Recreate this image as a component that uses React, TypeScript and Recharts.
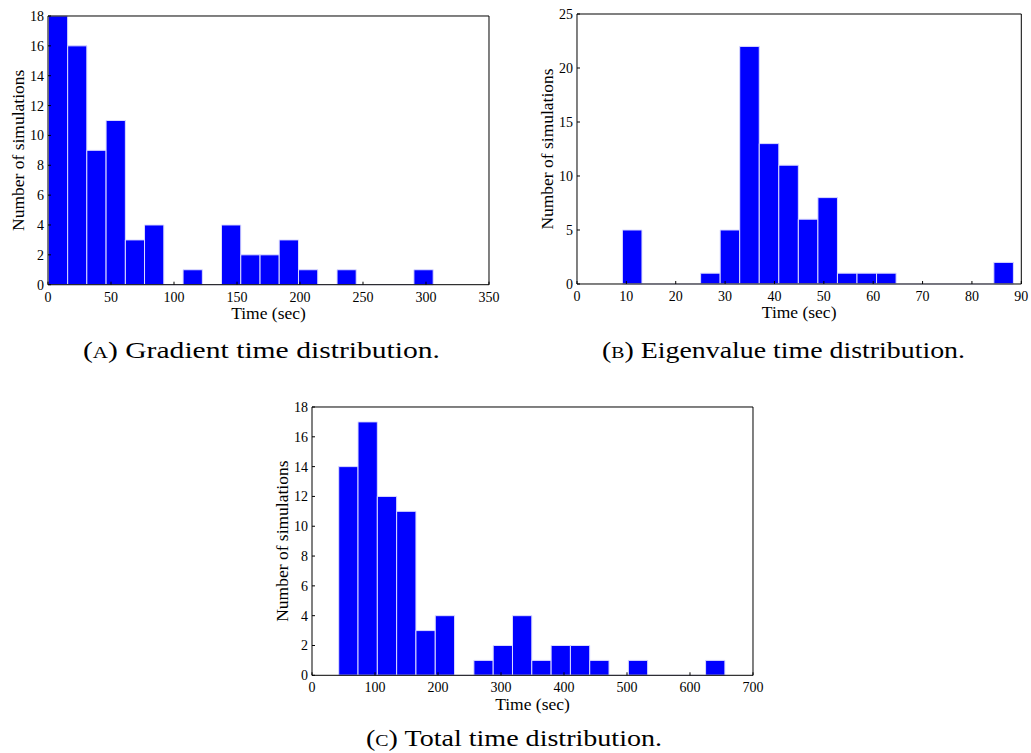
import React from 'react';
import { ComposedChart, XAxis, YAxis, ReferenceArea, ReferenceLine, Line, Label } from 'recharts';

// ---- Data (histogram bin edges and counts) ----
const gradEdges = [0.3, 15.6, 30.8, 46.1, 61.4, 76.6, 91.9, 107.2, 122.5, 137.7, 153.0, 168.3, 183.5, 198.8, 214.1, 229.4, 244.6, 259.9, 275.2, 290.4, 305.7];
const gradCounts = [18, 16, 9, 11, 3, 4, 0, 1, 0, 4, 2, 2, 3, 1, 0, 1, 0, 0, 0, 1];
const gradXTicks = [0, 50, 100, 150, 200, 250, 300, 350];
const gradYTicks = [0, 2, 4, 6, 8, 10, 12, 14, 16, 18];

const eigEdges = [9.2, 13.16, 17.12, 21.08, 25.04, 29.0, 32.96, 36.92, 40.88, 44.84, 48.8, 52.76, 56.72, 60.68, 64.64, 68.6, 72.56, 76.52, 80.48, 84.44, 88.4];
const eigCounts = [5, 0, 0, 0, 1, 5, 22, 13, 11, 6, 8, 1, 1, 1, 0, 0, 0, 0, 0, 2];
const eigXTicks = [0, 10, 20, 30, 40, 50, 60, 70, 80, 90];
const eigYTicks = [0, 5, 10, 15, 20, 25];

const totalEdges = [42.4, 73.05, 103.7, 134.35, 165.0, 195.65, 226.3, 256.95, 287.6, 318.25, 348.9, 379.55, 410.2, 440.85, 471.5, 502.15, 532.8, 563.45, 594.1, 624.75, 655.4];
const totalCounts = [14, 17, 12, 11, 3, 4, 0, 1, 2, 4, 1, 2, 2, 1, 0, 1, 0, 0, 0, 1];
const totalXTicks = [0, 100, 200, 300, 400, 500, 600, 700];
const totalYTicks = [0, 2, 4, 6, 8, 10, 12, 14, 16, 18];

const xTitle = 'Time (sec)';
const yTitle = 'Number of simulations';

const SERIF = '"Liberation Serif", "Times New Roman", serif';
const BAR_FILL = '#0000ff';
const BAR_EDGE = '#dcdcff';

const tickStyle = { fontFamily: SERIF, fontSize: 14, fill: '#000' };

const XTitle = (props: any) => {
  const vb = props.viewBox || {};
  const cx = vb.x + vb.width / 2;
  const y = vb.y + 34.5;
  return (
    <text x={cx} y={y} textAnchor="middle" fontFamily={SERIF} fontSize={17.5} fill="#000">
      {props.value}
    </text>
  );
};

const YTitle = (props: any) => {
  const vb = props.viewBox || {};
  const x = vb.x + vb.width - 24;
  const cy = vb.y + vb.height / 2;
  return (
    <text x={x} y={cy} transform={`rotate(-90 ${x} ${cy})`} textAnchor="middle" fontFamily={SERIF} fontSize={17.5} fill="#000">
      {props.value}
    </text>
  );
};

type Plot = { left: number; top: number; right: number; bottom: number };

function HistPanel(props: {
  edges: number[];
  counts: number[];
  xTicks: number[];
  yTicks: number[];
  plot: Plot;
}) {
  const { edges, counts, xTicks, yTicks, plot } = props;
  const bins = counts.map((c, i) => ({
    x0: edges[i],
    x1: edges[i + 1],
    mid: (edges[i] + edges[i + 1]) / 2,
    count: c,
  }));
  const xMax = xTicks[xTicks.length - 1];
  const yMax = yTicks[yTicks.length - 1];
  const padL = 50;
  const padT = 20;
  const padR = 20;
  const padB = 50;
  const W = plot.right - plot.left + padL + padR;
  const H = plot.bottom - plot.top + padT + padB;
  return (
    <div style={{ position: 'absolute', left: plot.left - padL, top: plot.top - padT }}>
      <ComposedChart
        width={W}
        height={H}
        data={bins}
        margin={{ top: padT - 1, right: padR - 1, bottom: padB - 45, left: padL - 40 }}
      >
        <XAxis
          dataKey="mid"
          type="number"
          domain={[0, xMax]}
          ticks={xTicks}
          allowDataOverflow
          interval={0}
          height={45}
          tickSize={-3}
          tickMargin={10}
          axisLine={{ stroke: '#000', strokeWidth: 1 }}
          tickLine={{ stroke: '#000' }}
          tick={tickStyle}
        >
          <Label value={xTitle} content={<XTitle />} />
        </XAxis>
        <XAxis
          xAxisId="top"
          orientation="top"
          type="number"
          domain={[0, xMax]}
          ticks={xTicks}
          allowDataOverflow
          interval={0}
          height={1}
          tickSize={-3}
          axisLine={{ stroke: '#000', strokeWidth: 1 }}
          tickLine={{ stroke: '#000' }}
          tick={false}
        />
        <YAxis
          type="number"
          domain={[0, yMax]}
          ticks={yTicks}
          allowDataOverflow
          interval={0}
          width={40}
          tickSize={-3}
          tickMargin={7}
          axisLine={{ stroke: '#000', strokeWidth: 1 }}
          tickLine={{ stroke: '#000' }}
          tick={tickStyle}
        >
          <Label value={yTitle} content={<YTitle />} />
        </YAxis>
        <YAxis
          yAxisId="right"
          orientation="right"
          type="number"
          domain={[0, yMax]}
          ticks={yTicks}
          allowDataOverflow
          interval={0}
          width={1}
          tickSize={-3}
          axisLine={{ stroke: '#000', strokeWidth: 1 }}
          tickLine={{ stroke: '#000' }}
          tick={false}
        />
        <Line
          dataKey="count"
          stroke="none"
          dot={false}
          activeDot={false}
          isAnimationActive={false}
        />
        <ReferenceLine
          segment={[
            { x: edges[0], y: 0 },
            { x: edges[edges.length - 1], y: 0 },
          ]}
          stroke={BAR_EDGE}
          strokeWidth={1}
        />
        {bins
          .filter((b) => b.count > 0)
          .map((b, i) => (
            <ReferenceArea
              key={i}
              x1={b.x0}
              x2={b.x1}
              y1={0}
              y2={b.count}
              fill={BAR_FILL}
              fillOpacity={1}
              stroke={BAR_EDGE}
              strokeWidth={1}
            />
          ))}
      </ComposedChart>
    </div>
  );
}

const captionStyle = { fontFamily: SERIF, fontSize: 24, fill: '#000' };

export default function App() {
  return (
    <div
      style={{
        position: 'absolute',
        left: 0,
        top: 0,
        width: 1031,
        height: 753,
        overflow: 'hidden',
        background: '#fff',
      }}
    >
      <HistPanel
        edges={gradEdges}
        counts={gradCounts}
        xTicks={gradXTicks}
        yTicks={gradYTicks}
        plot={{ left: 48.3, top: 16, right: 489.3, bottom: 284.7 }}
      />
      <HistPanel
        edges={eigEdges}
        counts={eigCounts}
        xTicks={eigXTicks}
        yTicks={eigYTicks}
        plot={{ left: 576.7, top: 14.3, right: 1021, bottom: 284.3 }}
      />
      <HistPanel
        edges={totalEdges}
        counts={totalCounts}
        xTicks={totalXTicks}
        yTicks={totalYTicks}
        plot={{ left: 312.3, top: 406.7, right: 753.3, bottom: 675 }}
      />
      <svg
        width={1031}
        height={753}
        style={{ position: 'absolute', left: 0, top: 0, pointerEvents: 'none' }}
      >
        <text x={83} y={358} textLength={357} lengthAdjust="spacingAndGlyphs" {...captionStyle}>
          (<tspan fontSize={17}>A</tspan>) Gradient time distribution.
        </text>
        <text x={602} y={358} textLength={363} lengthAdjust="spacingAndGlyphs" {...captionStyle}>
          (<tspan fontSize={17}>B</tspan>) Eigenvalue time distribution.
        </text>
        <text x={366} y={745.5} textLength={296} lengthAdjust="spacingAndGlyphs" {...captionStyle}>
          (<tspan fontSize={17}>C</tspan>) Total time distribution.
        </text>
      </svg>
    </div>
  );
}
